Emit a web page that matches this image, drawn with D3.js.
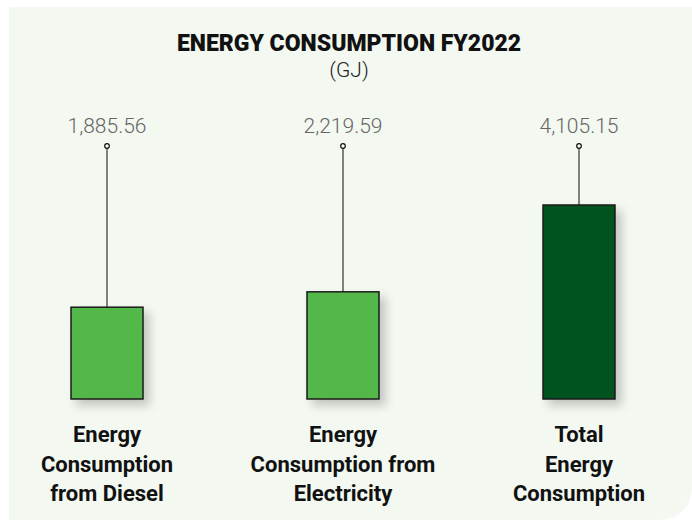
<!DOCTYPE html>
<html>
<head>
    <title>energy consumption</title>
</head>
<body style="margin:0;background:#fff;">
<style>
.value-label {
  font-family: Roboto, "Noto Sans", sans-serif;
  font-weight: 300;
  font-size: 21px;
  fill: #666;
}
.cat-label {
  font-family: Roboto, "Noto Sans", sans-serif;
  font-weight: 700;
  font-size: 22px;
  fill: #111;
}
</style>
<svg width="692" height="523"></svg>
<script src="https://d3js.org/d3.v7.min.js"></script>
<script>
var categories = ["diesel", "electricity", "total"];
var values = [1885.56, 2219.59, 4105.15];
var labels = [
  ["Energy", "Consumption", "from Diesel"],
  ["Energy", "Consumption from", "Electricity"],
  ["Total", "Energy", "Consumption"]
];
var colors = ["#52b84a", "#52b84a", "#06521f"];

var svg = d3.select("svg"),
    width = +svg.attr("width"),
    height = +svg.attr("height");

// panel with only the bottom right corner rounded
var px = 9, py = 7, pw = width - px, ph = 513, r = 32;
svg.append("path")
    .attr("d", "M" + px + "," + py + "H" + (px + pw) + "V" + (py + ph - r)
      + "A" + r + "," + r + " 0 0 1 " + (px + pw - r) + "," + (py + ph)
      + "H" + px + "Z")
    .attr("fill", "#f3f8f1");

var defs = svg.append("defs");
var shadow = defs.append("filter").attr("id", "shadow")
    .attr("x", "-30%").attr("y", "-30%").attr("width", "170%").attr("height", "170%");
shadow.append("feDropShadow")
    .attr("dx", 6).attr("dy", 6).attr("stdDeviation", 5)
    .attr("flood-color", "#000").attr("flood-opacity", 0.2);

svg.append("text")
    .attr("x", 349).attr("y", 51)
    .attr("text-anchor", "middle")
    .style("font-family", "Roboto, sans-serif")
    .style("font-weight", 900)
    .style("font-size", "23px")
    .style("fill", "#111")
    .text("ENERGY CONSUMPTION FY2022");

svg.append("text")
    .attr("x", 349).attr("y", 77)
    .attr("text-anchor", "middle")
    .style("font-family", "Roboto, sans-serif")
    .style("font-weight", 300)
    .style("font-size", "21px")
    .style("fill", "#222")
    .text("(GJ)");

var x = d3.scalePoint()
    .domain(categories)
    .range([107, 579]);

var baseline = 399;
var y = d3.scaleLinear()
    .domain([0, d3.max(values)])
    .range([394, 205]);

var barW = 72, markerY = 146;

var data = categories.map(function(c, i) {
  return {cat: c, value: values[i], label: labels[i], color: colors[i]};
});

var g = svg.append("g").selectAll("g")
    .data(data)
    .enter().append("g");

g.append("line")
    .attr("x1", d => x(d.cat)).attr("x2", d => x(d.cat))
    .attr("y1", markerY + 2.5).attr("y2", d => y(d.value))
    .attr("stroke", "#333").attr("stroke-width", 1.2);

g.append("circle")
    .attr("cx", d => x(d.cat)).attr("cy", markerY)
    .attr("r", 2.3)
    .attr("fill", "#fff").attr("stroke", "#111").attr("stroke-width", 1.2);

g.append("rect")
    .attr("x", d => x(d.cat) - barW / 2)
    .attr("y", d => y(d.value))
    .attr("width", barW)
    .attr("height", d => baseline - y(d.value))
    .attr("fill", d => d.color)
    .attr("stroke", "#1b1b1b").attr("stroke-width", 1.5)
    .attr("filter", "url(#shadow)");

g.append("text")
    .attr("class", "value-label")
    .attr("x", d => x(d.cat)).attr("y", 133)
    .attr("text-anchor", "middle")
    .text(d => d3.format(",.2f")(d.value));

var cat = g.append("text")
    .attr("class", "cat-label")
    .attr("text-anchor", "middle");

cat.selectAll("tspan")
    .data(d => d.label.map(t => ({t: t, cx: x(d.cat)})))
    .enter().append("tspan")
    .attr("x", d => d.cx)
    .attr("y", (d, i) => 442 + i * 29.5)
    .text(d => d.t);
</script>
</body>
</html>
